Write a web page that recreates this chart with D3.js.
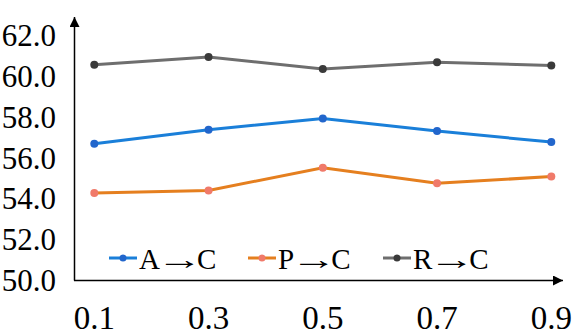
<!DOCTYPE html>
<html>
<head>
<meta charset="utf-8">
<script src="https://cdn.jsdelivr.net/npm/d3@7"></script>
<style>
  body { margin: 0; background: #fff; }
  text { font-family: "Liberation Serif", "Times New Roman", serif; fill: #000; }
</style>
</head>
<body>
<div id="chart"></div>
<script>
const xLabels = ['0.1', '0.3', '0.5', '0.7', '0.9']
const yTicks = [50, 52, 54, 56, 58, 60, 62]
const seriesNames = [['A', 'C'], ['P', 'C'], ['R', 'C']]
const aValues = [56.68, 57.37, 57.92, 57.30, 56.76]
const pValues = [54.26, 54.39, 55.50, 54.74, 55.07]
const rValues = [60.55, 60.93, 60.34, 60.67, 60.52]

const width = 582, height = 334
const styles = [
  {line: '#1a7fd9', dot: '#2266cc'},
  {line: '#e57f1f', dot: '#f07a6a'},
  {line: '#6e6e6e', dot: '#3a3a3a'}
]
const series = [aValues, pValues, rValues].map((v, i) => ({name: seriesNames[i], values: v, style: styles[i]}))

const svg = d3.select('#chart').append('svg')
  .attr('width', width)
  .attr('height', height)

const x = d3.scalePoint().domain(xLabels).range([94.3, 551.3])
const y = d3.scaleLinear().domain([50, 62]).range([280, 35.2])

// arrow markers for the axes
const defs = svg.append('defs')
defs.append('marker')
  .attr('id', 'arrow')
  .attr('viewBox', '0 0 10 10')
  .attr('refX', 10).attr('refY', 5)
  .attr('markerWidth', 10).attr('markerHeight', 10)
  .attr('markerUnits', 'userSpaceOnUse')
  .attr('orient', 'auto')
  .append('path')
  .attr('d', 'M0,0 L10,5 L0,10 Z')
  .attr('fill', '#000')

svg.append('line')
  .attr('x1', 74.5).attr('y1', 280.5).attr('x2', 74.5).attr('y2', 17)
  .attr('stroke', '#000').attr('stroke-width', 1.5)
  .attr('marker-end', 'url(#arrow)')
svg.append('line')
  .attr('x1', 74).attr('y1', 280.5).attr('x2', 563).attr('y2', 280.5)
  .attr('stroke', '#000').attr('stroke-width', 1.5)
  .attr('marker-end', 'url(#arrow)')

// y tick labels
svg.append('g').selectAll('text')
  .data(yTicks)
  .enter().append('text')
  .attr('x', 56)
  .attr('y', d => y(d) + 11)
  .attr('text-anchor', 'end')
  .style('font-size', '31px')
  .text(d => d.toFixed(1))

// x tick labels
svg.append('g').selectAll('text')
  .data(xLabels)
  .enter().append('text')
  .attr('x', d => x(d))
  .attr('y', 329)
  .attr('text-anchor', 'middle')
  .style('font-size', '33px')
  .text(d => d)

const line = d3.line()
  .x((d, i) => x(xLabels[i]))
  .y(d => y(d))

const groups = svg.append('g').selectAll('g')
  .data(series)
  .enter().append('g')

groups.append('path')
  .attr('d', d => line(d.values))
  .attr('fill', 'none')
  .attr('stroke', d => d.style.line)
  .attr('stroke-width', 3)

groups.selectAll('circle')
  .data(d => d.values.map((v, i) => ({v, i, style: d.style})))
  .enter().append('circle')
  .attr('cx', d => x(xLabels[d.i]))
  .attr('cy', d => y(d.v))
  .attr('r', 4)
  .attr('fill', d => d.style.dot)

// legend: letter, stretched thin arrow, letter
const legendX = [109, 248, 383]
const legend = svg.append('g').selectAll('g')
  .data(series)
  .enter().append('g')
  .attr('transform', (d, i) => `translate(${legendX[i]}, 258)`)
legend.append('line')
  .attr('x1', 0).attr('x2', 28).attr('y1', 0).attr('y2', 0)
  .attr('stroke', d => d.style.line).attr('stroke-width', 3)
legend.append('circle')
  .attr('cx', 14).attr('cy', 0).attr('r', 3.5)
  .attr('fill', d => d.style.dot)
legend.each(function(d) {
  const g = d3.select(this)
  const first = g.append('text')
    .attr('x', 30).attr('y', 11)
    .style('font-size', '29px')
    .text(d.name[0])
  const ax = 30 + first.node().getComputedTextLength() + 1
  const arrow = g.append('text')
    .style('font-size', '29px')
    .text('→')
  const aw = arrow.node().getComputedTextLength()
  const sx = 46 / aw
  arrow.attr('transform', `translate(${ax - 4.5}, 11) scale(${sx}, 1)`)
  g.append('text')
    .attr('x', ax + 36).attr('y', 11)
    .style('font-size', '29px')
    .text(d.name[1])
})
</script>
</body>
</html>
